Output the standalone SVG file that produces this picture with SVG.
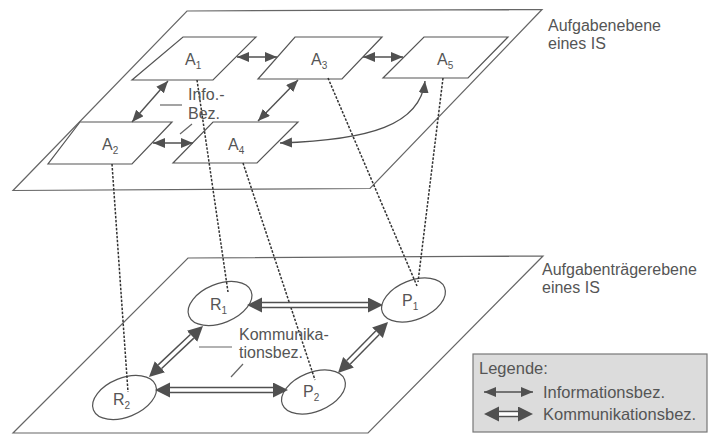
<svg xmlns="http://www.w3.org/2000/svg" width="713" height="435" viewBox="0 0 713 435">
<defs>
<style>
.plane{fill:#fff;stroke:#666;stroke-width:1.2}
.node{fill:#fff;stroke:#555;stroke-width:1.2}
.txt{font-family:"Liberation Sans",Arial,sans-serif;font-size:16px;fill:#555}
.lg{font-size:16.5px}
.sub{font-size:10px}
.dash{fill:none;stroke:#333;stroke-width:1.5;stroke-dasharray:2.5,1.5}
.info{fill:none;stroke:#505050;stroke-width:1.4;marker-start:url(#ih);marker-end:url(#ih)}
.cOut{fill:none;stroke:#505050;stroke-width:6.5;marker-start:url(#ch);marker-end:url(#ch)}
.cIn{fill:none;stroke:#fff;stroke-width:3.6}
.lead{stroke:#666;stroke-width:1.2}
</style>
<marker id="ih" markerUnits="userSpaceOnUse" markerWidth="13" markerHeight="11" refX="12" refY="5" orient="auto-start-reverse"><path d="M0,0 L12,5 L0,10 z" fill="#505050"/></marker>
<marker id="ch" markerUnits="userSpaceOnUse" markerWidth="16" markerHeight="16" refX="0" refY="7.5" orient="auto-start-reverse"><path d="M0,0 L15,7.5 L0,15 z" fill="#505050"/></marker>
</defs>
<rect width="713" height="435" fill="#fff"/>

<g id="plane-top">
<polygon class="plane" points="187,11 542,9.5 370,188.5 13,190.5"/>
<text class="txt" x="548" y="31">Aufgabenebene</text>
<text class="txt" x="548" y="49">eines IS</text>
</g>
<g id="plane-bottom">
<polygon class="plane" points="188,258 543,256 368,433 13,433"/>
<text class="txt" x="542" y="275">Aufgabenträgerebene</text>
<text class="txt" x="542" y="293">eines IS</text>
</g>

<g id="A1"><polygon class="node" points="183,37 256,37 213,80 132,80"/><text class="txt" x="185" y="65">A<tspan class="sub" dy="4">1</tspan></text></g>
<g id="A2"><polygon class="node" points="80,122 172,122 132,164 48,164"/><text class="txt" x="102" y="150">A<tspan class="sub" dy="4">2</tspan></text></g>
<g id="A3"><polygon class="node" points="295,37 382,37 342,79 258,79"/><text class="txt" x="311" y="65">A<tspan class="sub" dy="4">3</tspan></text></g>
<g id="A4"><polygon class="node" points="213,122 298,122 257,163 173,163"/><text class="txt" x="228" y="150">A<tspan class="sub" dy="4">4</tspan></text></g>
<g id="A5"><polygon class="node" points="424,37 508,37 468,78 383,78"/><text class="txt" x="437" y="65">A<tspan class="sub" dy="4">5</tspan></text></g>

<g id="R1"><ellipse class="node" cx="220" cy="303.5" rx="33.5" ry="19.5" transform="rotate(-22 220 303.5)"/><text class="txt" x="210" y="310">R<tspan class="sub" dy="4">1</tspan></text></g>
<g id="R2"><ellipse class="node" cx="124.5" cy="397.5" rx="33.5" ry="19.5" transform="rotate(-22 124.5 397.5)"/><text class="txt" x="113" y="405">R<tspan class="sub" dy="4">2</tspan></text></g>
<g id="P1"><ellipse class="node" cx="413.5" cy="300" rx="33.5" ry="19.5" transform="rotate(-22 413.5 300)"/><text class="txt" x="402" y="306">P<tspan class="sub" dy="4">1</tspan></text></g>
<g id="P2"><ellipse class="node" cx="313.5" cy="392" rx="33.5" ry="19.5" transform="rotate(-22 313.5 392)"/><text class="txt" x="303" y="397">P<tspan class="sub" dy="4">2</tspan></text></g>

<g id="connectors">
<line class="info" x1="237" y1="57" x2="277" y2="57"/>
<line class="info" x1="363" y1="57" x2="403" y2="57"/>
<line class="info" x1="168" y1="81" x2="132" y2="122"/>
<line class="info" x1="298" y1="80" x2="258" y2="121"/>
<line class="info" x1="153" y1="143" x2="193" y2="143"/>
<path class="info" d="M425,81 C420,125 370,140 280,143"/>

<line class="dash" x1="197" y1="80" x2="228" y2="292"/>
<line class="dash" x1="112" y1="164" x2="128" y2="392"/>
<line class="dash" x1="243" y1="163" x2="315" y2="380"/>
<line class="dash" x1="328" y1="78" x2="417" y2="286"/>
<line class="dash" x1="443" y1="78" x2="418" y2="282"/>

<path class="cOut" d="M262,305 L368,305"/><path class="cIn" d="M262,305 L368,305"/>
<path class="cOut" d="M170,390 L273,390"/><path class="cIn" d="M170,390 L273,390"/>
<path class="cOut" d="M192.1,336.3 L159.9,366.7"/><path class="cIn" d="M192.1,336.3 L159.9,366.7"/>
<path class="cOut" d="M377.5,332.7 L348.5,362.3"/><path class="cIn" d="M377.5,332.7 L348.5,362.3"/>
</g>

<g id="label-info">
<text class="txt" x="188" y="100">Info.-</text>
<text class="txt" x="188" y="119">Bez.</text>
<line class="lead" x1="160" y1="105" x2="182" y2="105"/>
<line class="lead" x1="180" y1="134" x2="192" y2="124"/>
</g>
<g id="label-komm">
<text class="txt" x="239" y="340">Kommunika-</text>
<text class="txt" x="239" y="358">tionsbez.</text>
<line class="lead" x1="199" y1="347" x2="232" y2="347"/>
<line class="lead" x1="231" y1="377" x2="243" y2="364"/>
</g>

<g id="legend">
<rect x="473" y="354" width="234" height="78" fill="#dcdcdc" stroke="#777" stroke-width="1.2"/>
<text class="txt lg" x="479" y="374">Legende:</text>
<line class="info" x1="484" y1="392" x2="533" y2="392"/>
<text class="txt lg" x="543" y="398">Informationsbez.</text>
<path class="cOut" d="M499,414 L518,414"/><path class="cIn" d="M499,414 L518,414"/>
<text class="txt lg" x="543" y="420">Kommunikationsbez.</text>
</g>
</svg>
